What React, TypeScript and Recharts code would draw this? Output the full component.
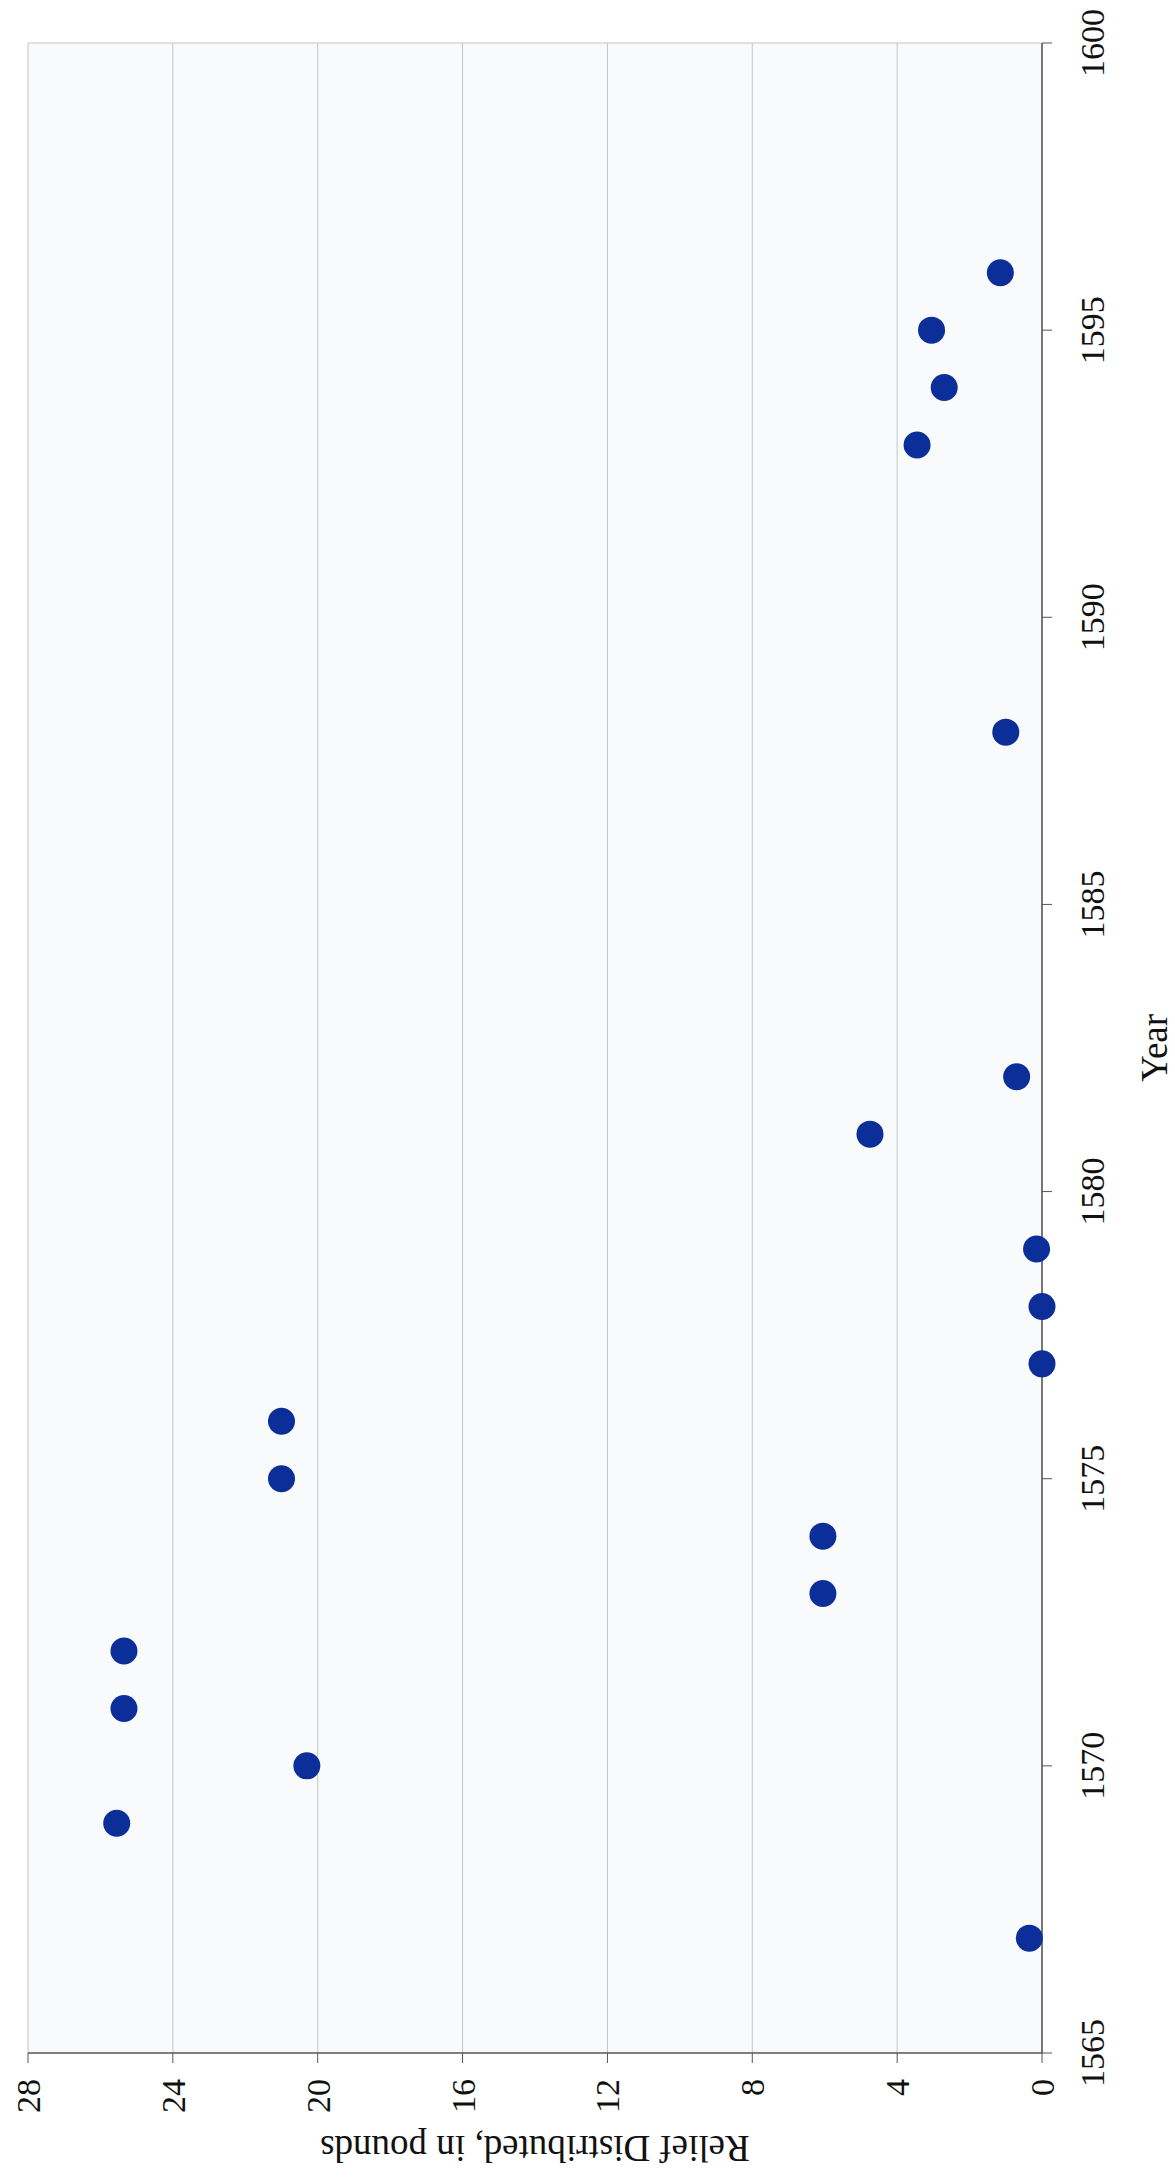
import React from 'react';
import { ScatterChart, Scatter, XAxis, YAxis, CartesianGrid, ReferenceLine } from 'recharts';

const years = [1567, 1569, 1570, 1571, 1572, 1573, 1574, 1575, 1576, 1577, 1578, 1579, 1581, 1582, 1588, 1593, 1594, 1595, 1596];
const relief = [0.35, 25.55, 20.3, 25.35, 25.35, 6.05, 6.05, 21.0, 21.0, 0, 0, 0.15, 4.75, 0.7, 1.0, 3.45, 2.7, 3.05, 1.15];
const yearTicks = [1565, 1570, 1575, 1580, 1585, 1590, 1595, 1600];
const reliefTicks = [0, 4, 8, 12, 16, 20, 24, 28];

const data = years.map((y, i) => ({ year: y, relief: relief[i] }));

const W = 2184;
const H = 1175;
const FONT = '"Liberation Serif", "DejaVu Serif", serif';

const Dot = (props: any) => {
  const { cx, cy } = props;
  if (cx == null || cy == null) return null;
  return <circle cx={cx} cy={cy} r={13.5} fill="#0c2e98" />;
};

export default function App() {
  return (
    <div style={{ position: 'absolute', left: 0, top: 0, width: H, height: W, overflow: 'hidden', background: '#ffffff' }}>
      <div
        style={{
          position: 'absolute',
          left: 0,
          top: 0,
          width: W,
          height: H,
          transformOrigin: '0 0',
          transform: `translate(0px, ${W}px) rotate(-90deg)`,
        }}
      >
        <ScatterChart width={W} height={H} margin={{ top: 28, right: 43, left: 31, bottom: 3 }}>
          <CartesianGrid vertical={false} horizontal stroke="#c4c4c4" strokeWidth={1} fill="#f9fafc" />
          <ReferenceLine x={1600} stroke="#c4c4c4" strokeWidth={1} />
          <XAxis
            dataKey="year"
            type="number"
            domain={[1565, 1600]}
            ticks={yearTicks}
            height={130}
            tickSize={10}
            tickMargin={28}
            axisLine={{ stroke: '#555555', strokeWidth: 1.5 }}
            tickLine={{ stroke: '#555555', strokeWidth: 1 }}
            tick={{ fontSize: 34, fill: '#111111', fontFamily: FONT }}
            label={{ value: 'Year', position: 'insideBottom', offset: 5, fontSize: 37, fill: '#111111', fontFamily: FONT }}
          />
          <YAxis
            dataKey="relief"
            type="number"
            domain={[0, 28]}
            ticks={reliefTicks}
            width={100}
            tickSize={10}
            tickMargin={16}
            axisLine={{ stroke: '#555555', strokeWidth: 1.5 }}
            tickLine={{ stroke: '#555555', strokeWidth: 1 }}
            tick={{ fontSize: 34, fill: '#111111', fontFamily: FONT }}
            label={{
              value: 'Relief Distributed, in pounds',
              angle: -90,
              position: 'insideLeft',
              offset: 4,
              fontSize: 37,
              fill: '#111111',
              fontFamily: FONT,
              style: { textAnchor: 'middle' },
            }}
          />
          <Scatter data={data} dataKey="relief" shape={Dot} isAnimationActive={false} />
        </ScatterChart>
      </div>
    </div>
  );
}
